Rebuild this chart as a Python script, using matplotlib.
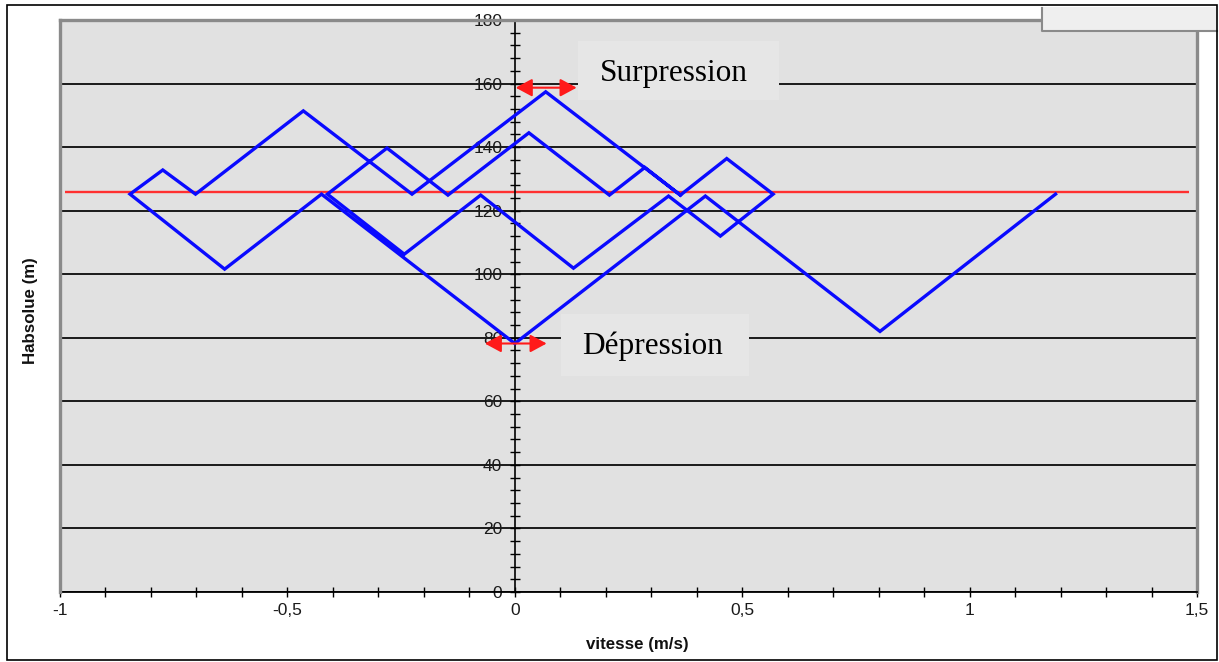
import matplotlib
matplotlib.use('Agg')
import matplotlib.pyplot as plt
from matplotlib.patches import Rectangle
from matplotlib.lines import Line2D
from matplotlib.ticker import FixedLocator, MultipleLocator

plt.rcParams['font.family'] = ['Liberation Sans', 'DejaVu Sans']

# ---- data ----
vitesse = [1.189, 0.803, 0.419, 0.0, -0.425, -0.638, -0.846, -0.774, -0.702,
           -0.465, -0.226, 0.068, 0.364, 0.466, 0.568, 0.452, 0.338, 0.129,
           -0.075, -0.243, -0.412, -0.281, -0.147, 0.031, 0.208, 0.286, 0.364]
h_abs = [125.2, 82.0, 124.6, 78.2, 125.2, 101.6, 125.2, 132.8, 125.2,
         151.4, 125.2, 157.4, 124.9, 136.4, 125.2, 112.0, 124.6, 101.9,
         124.9, 106.3, 125.2, 139.7, 124.9, 144.5, 124.9, 133.6, 124.9]
h_ref = 126.0
xticks = [-1, -0.5, 0, 0.5, 1, 1.5]
xtick_labels = ['-1', '-0,5', '0', '0,5', '1', '1,5']
yticks = [0, 20, 40, 60, 80, 100, 120, 140, 160, 180]
ytick_labels = [str(v) for v in yticks]
x_label = 'vitesse (m/s)'
y_label = 'Habsolue (m)'

W, H = 1219, 662
fig = plt.figure(figsize=(W / 100, H / 100), dpi=100)
fig.patch.set_facecolor('white')


def fx(px):
    return px / W


def fy(py):
    return 1 - py / H


ax = fig.add_axes([fx(60), fy(592), (1197 - 60) / W, (592 - 20) / H])
ax.set_xlim(-1, 1.5)
ax.set_ylim(0, 180)
ax.set_facecolor('#e1e1e1')

ax.xaxis.set_major_locator(FixedLocator(xticks))
ax.set_xticklabels(xtick_labels)
ax.xaxis.set_minor_locator(MultipleLocator(0.1))
ax.yaxis.set_major_locator(FixedLocator(yticks))
ax.set_yticklabels(ytick_labels)
ax.yaxis.set_minor_locator(MultipleLocator(4))

ax.grid(axis='y', which='major', color='#1a1a1a', lw=1.4, zorder=1)
ax.set_axisbelow(True)

ax.tick_params(which='both', direction='inout', length=7, width=1.0,
               color='black', top=False, right=False)
ax.tick_params(axis='y', pad=5.5, labelsize=12.5, labelcolor='#1a1a1a')
ax.tick_params(axis='x', pad=4.5, labelsize=12.5, labelcolor='#1a1a1a')

ax.spines['left'].set_position(('data', 0))
ax.spines['left'].set_color('black')
ax.spines['left'].set_linewidth(1.2)
ax.spines['bottom'].set_color('black')
ax.spines['bottom'].set_linewidth(1.3)
for s in ('top', 'right'):
    ax.spines[s].set_color('#8a8a8a')
    ax.spines[s].set_linewidth(2.4)
ax.add_line(Line2D([0, 0], [0, 1], transform=ax.transAxes, color='#8a8a8a',
                   lw=2.4, clip_on=False, zorder=2.6))

# reference line and trajectory
ax.hlines(h_ref, -0.988, 1.482, color='#ff3030', lw=1.7, zorder=2)
ax.plot(vitesse, h_abs, color='#0a0aff', lw=2.4, zorder=3,
        solid_joinstyle='miter')

# annotations
ax.add_patch(Rectangle((0.140, 154.9), 0.441, 18.6, fc='#e6e6e6', ec='none',
                       zorder=4))
ax.text(0.186, 160.9, 'Surpression', family='Liberation Serif', size=22.5,
        ha='left', va='baseline', zorder=5, color='black')
ax.annotate('', xy=(0.136, 158.7), xytext=(0.002, 158.7),
            arrowprops=dict(arrowstyle='<|-|>,head_length=0.5,head_width=0.27',
                            color='#ff1a1a', lw=1.5, mutation_scale=20,
                            shrinkA=0, shrinkB=0), zorder=6)

ax.add_patch(Rectangle((0.101, 68.1), 0.414, 19.3, fc='#e6e6e6', ec='none',
                       zorder=4))
ax.text(0.147, 74.8, 'Dépression', family='Liberation Serif', size=22.5,
        ha='left', va='baseline', zorder=5, color='black')
ax.annotate('', xy=(0.070, 78.2), xytext=(-0.066, 78.2),
            arrowprops=dict(arrowstyle='<|-|>,head_length=0.5,head_width=0.27',
                            color='#ff1a1a', lw=1.5, mutation_scale=20,
                            shrinkA=0, shrinkB=0), zorder=6)

# axis titles
fig.text(fx(637), fy(645), x_label, ha='center', va='center',
         fontsize=12.2, fontweight='bold', color='#111111')
fig.text(fx(30), fy(311), y_label, ha='center', va='center', rotation=90,
         fontsize=12.2, fontweight='bold', color='#111111')

# empty legend box top right
fig.add_artist(Rectangle((fx(1042), fy(31)), (1217 - 1042) / W, (31 - 7) / H,
                         transform=fig.transFigure, fc='#efefef', ec='none',
                         zorder=5))
fig.add_artist(Line2D([fx(1042), fx(1042), fx(1217)], [fy(8), fy(31), fy(31)],
                      transform=fig.transFigure, color='#8a8a8a', lw=1.5,
                      zorder=6))

# outer frame
fig.add_artist(Rectangle((fx(7), fy(660)), (1217 - 7) / W, (660 - 5) / H,
                         transform=fig.transFigure, fill=False, ec='black',
                         lw=1.2, zorder=7))

fig.savefig('out.png', dpi=100)
